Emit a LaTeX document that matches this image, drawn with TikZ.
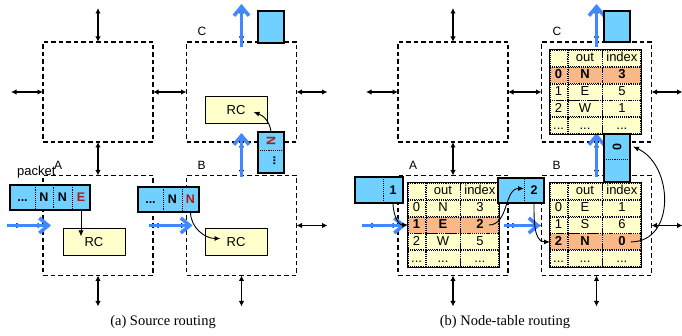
\documentclass[tikz,border=0pt]{standalone}
\usepackage{fontspec}
\setmainfont{Liberation Sans}
\newfontfamily\capfont{Liberation Serif}
\usepackage{graphicx}
\usetikzlibrary{positioning, arrows.meta, matrix}
\definecolor{pktblue}{HTML}{70D0FF}
\definecolor{flowblue}{HTML}{4088FF}
\definecolor{paleyellow}{HTML}{FFFFCC}
\definecolor{hotorange}{HTML}{F8B888}
\definecolor{darkred}{HTML}{B01818}

\begin{document}
\begin{tikzpicture}[x=1pt, y=1pt,
    router/.style={draw, dash pattern=on 4.5pt off 3pt, line width=1.1pt, minimum width=110pt, minimum height=100pt, inner sep=0pt, outer sep=0pt},
    link/.style={{Latex[length=5.5pt,width=5.5pt]}-{Latex[length=5.5pt,width=5.5pt]}, line width=1.1pt},
    flow/.style={-{Straight Barb[length=9pt,width=15pt]}, line width=3.5pt, color=flowblue},
    ptr/.style={-{Latex[length=6pt,width=5pt]}, line width=0.9pt},
    lbl/.style={inner sep=0pt, font=\fontsize{12}{14}\selectfont},
    rc/.style={draw, fill=paleyellow, line width=1pt, minimum width=62pt, minimum height=27pt, font=\fontsize{13}{15}\selectfont},
    cell/.style={draw, densely dotted, fill=pktblue, line width=0.9pt, minimum height=25pt, inner sep=0pt, outer sep=0pt, text height=9pt, text depth=0pt, font=\bfseries\fontsize{12.5}{14}\selectfont},
    pktframe/.style={draw, line width=1.2pt},
    tcell/.style={draw, densely dotted, line width=0.9pt, fill=paleyellow, minimum height=16pt, inner sep=0pt, outer sep=0pt, text height=9.5pt, text depth=2.5pt, font=\fontsize{13}{15}\selectfont},
    hot/.style={fill=hotorange, font=\bfseries\fontsize{13}{15}\selectfont},
    table/.style={matrix of nodes, nodes in empty cells, inner sep=0pt, outer sep=0pt, column sep=0pt, row sep=0pt, nodes={tcell},
      column 1/.style={nodes={minimum width=17pt}}, column 2/.style={nodes={minimum width=34pt}}, column 3/.style={nodes={minimum width=38pt}}}]
\useasboundingbox (0,0) rectangle (682,336);

% routers, links and flow, same for both panels
\foreach \p/\dx/\e in {a/0/6, b/355/-1} {
  \node[router] (\p tl) at (98+\dx,244) {};
  \node[router] (\p C) at (241.5+\dx,244) {};
  \node[router] (\p A) at (98+\dx,110.5) {};
  \node[router] (\p B) at (241.5+\dx,110.5) {};
  \node[lbl, above right=6pt and 11pt of \p C.north west] (\p Clbl) {C};
  \node[lbl, above right=6pt and 11pt of \p A.north west] (\p Albl) {A};
  \node[lbl, above right=6pt and 11pt of \p B.north west] (\p Blbl) {B};
  \coordinate[above=34pt of \p tl] (\p tlN);
  \coordinate[left=32pt of \p tl] (\p tlW);
  \coordinate[above=34pt of \p C] (\p CN);
  \coordinate[right=31pt of \p C] (\p CE);
  \coordinate[left=31pt of \p A] (\p AW);
  \coordinate[below=31pt of \p A] (\p AS);
  \coordinate[right=31pt of \p B] (\p BE);
  \coordinate[below=31pt of \p B] (\p BS);
  \draw[link] (\p tl.north) -- (\p tlN);
  \draw[link] (\p tl.west) -- (\p tlW);
  \draw[link] (\p tl.east) -- (\p C.west);
  \draw[link] (\p tl.south) -- (\p A.north);
  \draw[link] (\p C.north) -- (\p CN);
  \draw[link] (\p C.east) -- (\p CE);
  \draw[link] (\p C.south) -- (\p B.north);
  \draw[link] (\p A.west) -- (\p AW);
  \draw[link] (\p A.south) -- (\p AS);
  \draw[link] (\p A.east) -- (\p B.west);
  \draw[link] (\p B.east) -- (\p BE);
  \draw[link] (\p B.south) -- (\p BS);
  \draw[flow] ([xshift=-5pt]\p AW) -- ([xshift=8pt]\p A.west);
  \draw[flow] ([xshift=-4pt]\p A.east) -- ([xshift=\e pt]\p B.west);
  \draw[flow] ([yshift=-2pt]\p B.north) -- ([yshift=9pt]\p C.south);
  \draw[flow] ([yshift=-5pt]\p C.north) -- ([yshift=4pt]\p CN);
}

% (a) source routing
\node[rc] (aRA) at (94,93.5) {RC};
\node[rc] (aRB) at (236,93.5) {RC};
\node[rc] (aRC) at (236,226) {RC};
\node[cell, minimum width=25pt] (aPa1) at (22.5,138.5) {...};
\node[cell, minimum width=18pt, right=0pt of aPa1] (aPa2) {N};
\node[cell, minimum width=19pt, right=0pt of aPa2] (aPa3) {N};
\node[cell, minimum width=18pt, right=0pt of aPa3, text=darkred] (aPa4) {E};
\draw[pktframe] (aPa1.north west) rectangle (aPa4.south east);
\node[inner sep=0pt, font=\fontsize{13}{15}\selectfont, above right=7pt and 7pt of aPa1.north west] (pktlbl) {packet};
\node[cell, minimum width=25pt] (aPb1) at (150.5,136.5) {...};
\node[cell, minimum width=19pt, right=0pt of aPb1] (aPb2) {N};
\node[cell, minimum width=17pt, right=0pt of aPb2, text=darkred] (aPb3) {N};
\draw[pktframe] (aPb1.north west) rectangle (aPb3.south east);
\node[cell, minimum width=26pt, minimum height=18pt, text=darkred] (aPc1) at (271,195) {\rotatebox{90}{N}};
\node[cell, minimum width=26pt, minimum height=23pt, below=0pt of aPc1] (aPc2) {\rotatebox{90}{\vphantom{N}...}};
\draw[pktframe] (aPc1.north west) rectangle (aPc2.south east);
\node[cell, pktframe, solid, minimum width=26pt, minimum height=32pt] (aPout) at (271,309) {};
\draw[ptr] (aPa4.south) -- ([yshift=-8pt]aPa4.south |- aRA.north);
\draw[ptr] (aPb3.south) to[out=-90, in=180] ([xshift=16pt,yshift=4pt]aRB.west);
\draw[ptr] (aPc1.north) to[out=95, in=-20] ([xshift=-14pt,yshift=-2pt]aRC.east);

% (b) node-table routing
\matrix[table, row 3/.style={nodes={hot}}] (tA) at (453.5,111) {
      & out & index \\
  0   & N   & 3 \\
  1   & E   & 2 \\
  2   & W   & 5 \\
  ... & ... & ... \\
};
\matrix[table, row 4/.style={nodes={hot}}] (tB) at (595.5,111) {
      & out & index \\
  0   & E   & 1 \\
  1   & S   & 6 \\
  2   & N   & 0 \\
  ... & ... & ... \\
};
\matrix[table, row 2/.style={nodes={hot}}] (tC) at (595.5,244) {
      & out & index \\
  0   & N   & 3 \\
  1   & E   & 5 \\
  2   & W   & 1 \\
  ... & ... & ... \\
};
\draw[pktframe] (tA.north west) rectangle (tA.south east);
\draw[pktframe] (tB.north west) rectangle (tB.south east);
\draw[pktframe] (tC.north west) rectangle (tC.south east);
\node[cell, minimum width=28pt, minimum height=26pt] (bPa1) at (369,146) {};
\node[cell, minimum width=20pt, minimum height=26pt, right=0pt of bPa1] (bPa2) {1};
\draw[pktframe] (bPa1.north west) rectangle (bPa2.south east);
\node[cell, minimum width=26pt] (bPb1) at (511,145.5) {};
\node[cell, minimum width=20pt, right=0pt of bPb1] (bPb2) {2};
\draw[pktframe] (bPb1.north west) rectangle (bPb2.south east);
\node[cell, minimum width=26pt, minimum height=25pt] (bPc1) at (617,189.5) {\rotatebox{90}{0}};
\node[cell, minimum width=26pt, minimum height=23pt, below=0pt of bPc1] (bPc2) {};
\draw[pktframe] (bPc1.north west) rectangle (bPc2.south east);
\node[cell, pktframe, solid, minimum width=26pt, minimum height=31pt] (bPout) at (617,309.5) {};
\draw[ptr] (bPa2.south) to[out=-90, in=180] (tA-3-1.west);
\draw[ptr] ([xshift=9pt]tA-3-3.center) to[out=0, in=180] ([yshift=2pt]bPb1.east);
\draw[ptr] (bPb2.south) to[out=-90, in=180] (tB-4-1.west);
\draw[ptr] ([xshift=9pt]tB-4-3.center) to[out=0, in=-25, looseness=1.2] ([xshift=3pt]bPc1.east);

% captions
\node[font=\capfont\fontsize{14.5}{16}\selectfont] (capA) at (163,14) {(a) Source routing};
\node[font=\capfont\fontsize{14.5}{16}\selectfont] (capB) at (505,14) {(b) Node-table routing};
\end{tikzpicture}
\end{document}
